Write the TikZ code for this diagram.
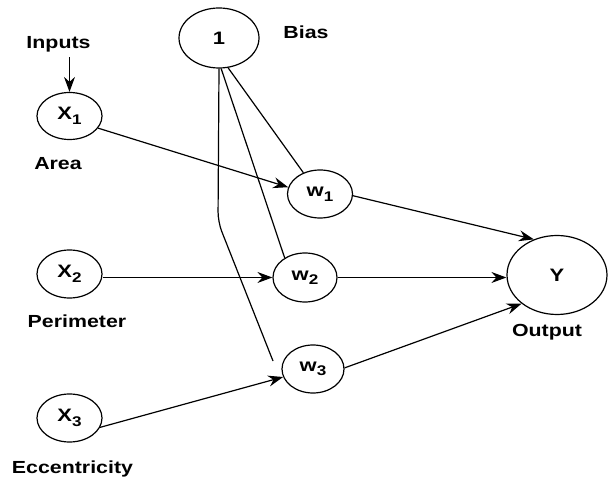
\documentclass[tikz,border=0pt]{standalone}
\usepackage{fontspec}
\setmainfont{Liberation Sans}[FakeStretch=1.22]
\usetikzlibrary{shapes.geometric,arrows.meta}
\newcommand{\sublbl}[2]{#1\raisebox{-4.5pt}{\fontsize{14}{14}\selectfont #2}}
\begin{document}
\begin{tikzpicture}[x=1pt,y=-1pt,
  line width=1.2pt,
  neuron/.style={draw, ellipse, inner sep=0pt, line width=1.2pt, font=\fontsize{18}{18}\selectfont\bfseries},
  lbl/.style={anchor=base, inner sep=0pt, font=\fontsize{17.5}{17.5}\selectfont\bfseries},
  arr/.style={-{Stealth[length=15pt,width=11pt,inset=5pt]}},
  link/.style={line width=1.2pt}
]
\useasboundingbox (0,0) rectangle (608,478);

% nodes
\node[neuron, minimum width=80pt, minimum height=60pt] (bias) at (219,38) {1};
\node[neuron, minimum width=65pt, minimum height=47pt] (X1) at (69.5,116) {\sublbl{X}{1}};
\node[neuron, minimum width=65pt, minimum height=48pt] (X2) at (69.5,274) {\sublbl{X}{2}};
\node[neuron, minimum width=65pt, minimum height=48pt] (X3) at (69.5,418) {\sublbl{X}{3}};
\node[neuron, minimum width=65pt, minimum height=48pt] (w1) at (320,194) {\sublbl{w}{1}};
\node[neuron, minimum width=64pt, minimum height=49pt] (w2) at (305,277.5) {\sublbl{w}{2}};
\node[neuron, minimum width=62pt, minimum height=48pt] (w3) at (313,369) {\sublbl{w}{3}};
\node[neuron, minimum width=100pt, minimum height=79pt] (Y) at (557,275) {Y};

% labels
\node[lbl] (inputs) at (58.5,49) {Inputs};
\node[lbl] (biaslbl) at (306,39) {Bias};
\node[lbl] (area) at (58,170) {Area};
\node[lbl] (perim) at (77,328) {Perimeter};
\node[lbl] (ecc) at (72.5,473) {Eccentricity};
\node[lbl] (out) at (547,337) {Output};

\coordinate (b3end) at (273,361);

% connectors
\draw[arr] (inputs.south -| X1.north) ++(0,4) -- (X1.north);
\draw[link] (bias.-73) -- (w1.128);
\draw[link] (bias.-86) -- (w2.136);
\draw[link, rounded corners=10pt] (bias.south) -- (218,222) -- (b3end);
\draw[arr] (X1.-23) -- (w1.168);
\draw[arr] (X2.east |- w2.west) -- (w2.west);
\draw[arr] (X3.-17) -- (w3.195);
\draw[arr] (w1.-3) -- (Y.123);
\draw[arr] (w2.east) -- (Y.west |- w2.east);
\draw[arr] (w3.2) -- (Y.219);
\end{tikzpicture}
\end{document}
